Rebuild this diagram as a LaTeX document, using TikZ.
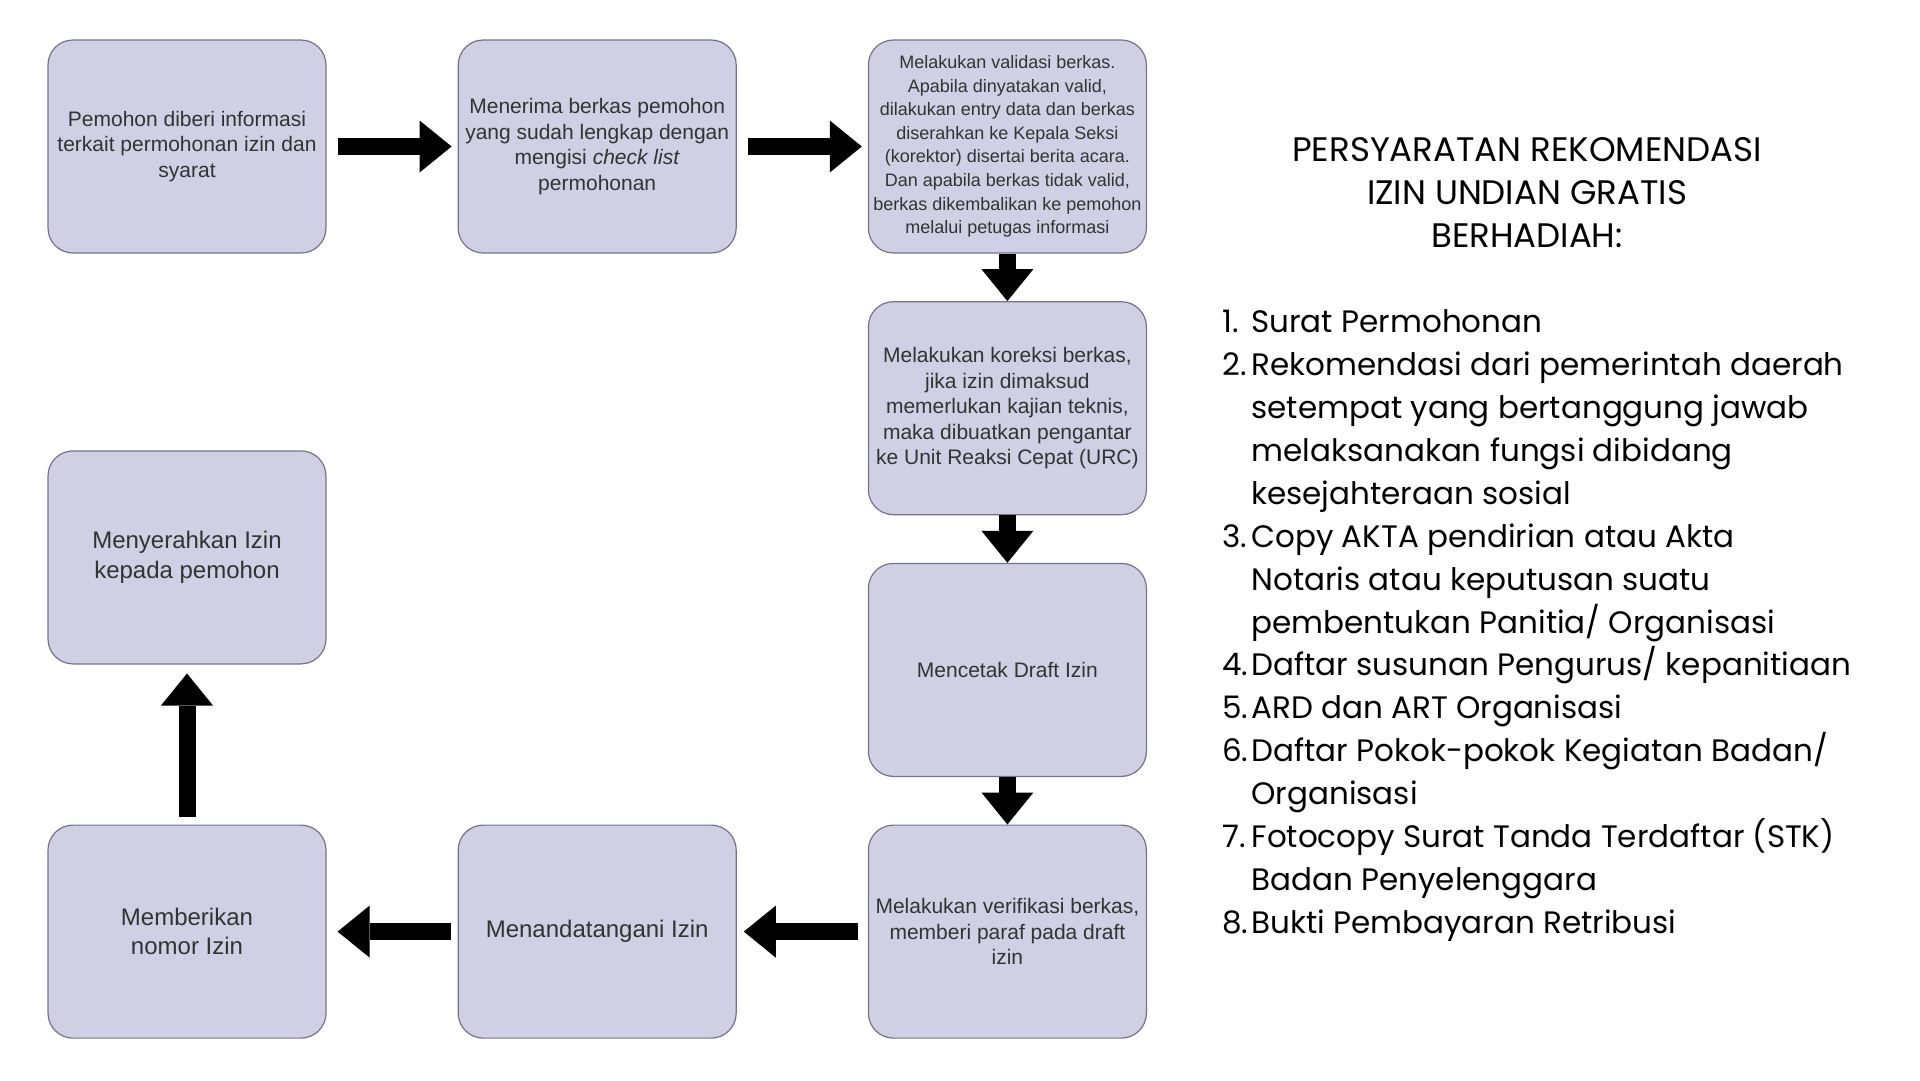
\documentclass[tikz,border=0pt]{standalone}
\usepackage{fontspec}
\setmainfont{Liberation Sans}
\newfontfamily\listfont{Poppins}
\usetikzlibrary{positioning, arrows.meta}

\definecolor{boxfill}{HTML}{D0CFE3}
\definecolor{boxline}{HTML}{75738C}
\definecolor{boxtext}{HTML}{333333}

\begin{document}
\begin{tikzpicture}[
    x=1pt, y=1pt,
    node distance=47.5pt and 131pt,
    block/.style={draw=boxline, fill=boxfill, line width=1.2pt, rectangle, rounded corners=25pt,
        minimum width=278pt, minimum height=213pt, inner sep=2pt, align=center, text=boxtext,
        font=\fontsize{21}{25.6}\selectfont},
    small/.style={block, font=\fontsize{18}{23.6}\selectfont},
    big/.style={block, font=\fontsize{24}{29.4}\selectfont},
    arrow/.style={-{Triangle[width=52pt, length=32pt, line width=0pt]}, line width=17pt}
]
\useasboundingbox (0,0) rectangle (1920,-1080);

% Top row
\node[block] (info) at (187,-146.5) {Pemohon diberi informasi\\terkait permohonan izin dan\\syarat};
\node[block, right=of info] (terima) {Menerima berkas pemohon\\yang sudah lengkap dengan\\mengisi \textit{check list}\\permohonan};
\node[small, right=of terima] (validasi) {Melakukan validasi berkas.\\Apabila dinyatakan valid,\\dilakukan entry data dan berkas\\diserahkan ke Kepala Seksi\\(korektor) disertai berita acara.\\Dan apabila berkas tidak valid,\\berkas dikembalikan ke pemohon\\melalui petugas informasi};

% Right column
\node[block, below=of validasi] (koreksi) {Melakukan koreksi berkas,\\jika izin dimaksud\\memerlukan kajian teknis,\\maka dibuatkan pengantar\\ke Unit Reaksi Cepat (URC)};
\node[block, below=of koreksi] (draft) {Mencetak Draft Izin};
\node[block, below=of draft] (verifikasi) {Melakukan verifikasi berkas,\\memberi paraf pada draft\\izin};

% Bottom row
\node[big, left=of verifikasi] (ttd) {Menandatangani Izin};
\node[big, left=of ttd] (nomor) {Memberikan\\nomor Izin};
\node[big, above=160pt of nomor] (serah) {Menyerahkan Izin\\kepada pemohon};

% Requirements
\node[font=\listfont\fontsize{34}{43}\selectfont, align=center] (judul) at (1527,-193)
    {PERSYARATAN REKOMENDASI\\IZIN UNDIAN GRATIS\\BERHADIAH:};
\node[font=\listfont\fontsize{31}{42.9}\selectfont, anchor=north west, inner sep=0pt] (syarat) at (1222,-302.5) {%
\begin{tabular}{@{}l@{\hspace{3pt}}l@{}}
1. & Surat Permohonan\\
2. & Rekomendasi dari pemerintah daerah\\
   & setempat yang bertanggung jawab\\
   & melaksanakan fungsi dibidang\\
   & kesejahteraan sosial\\
3. & Copy AKTA pendirian atau Akta\\
   & Notaris atau keputusan suatu\\
   & pembentukan Panitia/ Organisasi\\
4. & Daftar susunan Pengurus/ kepanitiaan\\
5. & ARD dan ART Organisasi\\
6. & Daftar Pokok-pokok Kegiatan Badan/\\
   & Organisasi\\
7. & Fotocopy Surat Tanda Terdaftar (STK)\\
   & Badan Penyelenggara\\
8. & Bukti Pembayaran Retribusi
\end{tabular}};

% Arrows
\draw[arrow, shorten <=11pt, shorten >=6pt] (info) -- (terima);
\draw[arrow, shorten <=11pt, shorten >=6pt] (terima) -- (validasi);
\draw[arrow] (validasi) -- (koreksi);
\draw[arrow] (koreksi) -- (draft);
\draw[arrow] (draft) -- (verifikasi);
\draw[arrow, shorten <=10pt, shorten >=7pt] (verifikasi) -- (ttd);
\draw[arrow, shorten <=7pt, shorten >=11pt] (ttd) -- (nomor);
\draw[arrow, shorten <=8pt, shorten >=9pt] (nomor) -- (serah);

\end{tikzpicture}
\end{document}
